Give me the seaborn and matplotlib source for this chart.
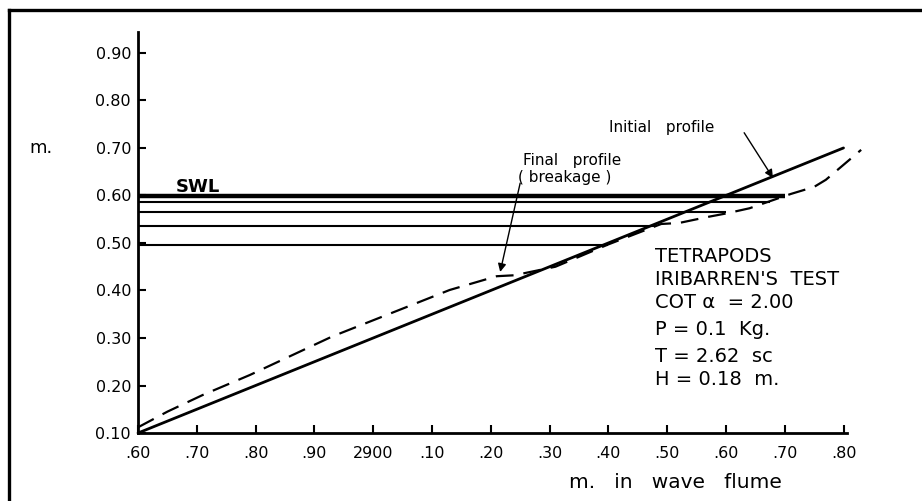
import matplotlib
matplotlib.use("Agg")
import matplotlib.pyplot as plt
from matplotlib.lines import Line2D
import seaborn as sns
import pandas as pd

# ---- data ----
x_tick_values = [28.60, 28.70, 28.80, 28.90, 29.00, 29.10, 29.20, 29.30,
                 29.40, 29.50, 29.60, 29.70, 29.80]
x_tick_labels = [".60", ".70", ".80", ".90", "2900", ".10", ".20", ".30",
                 ".40", ".50", ".60", ".70", ".80"]
y_tick_values = [0.10, 0.20, 0.30, 0.40, 0.50, 0.60, 0.70, 0.80, 0.90]
y_tick_labels = ["0.10", "0.20", "0.30", "0.40", "0.50", "0.60", "0.70", "0.80", "0.90"]

initial_x = [28.60, 29.80]
initial_y = [0.10, 0.70]

final_x = [28.60, 28.65, 28.71, 28.79, 28.93, 29.13, 29.21, 29.24, 29.31,
           29.40, 29.49, 29.52, 29.57, 29.60, 29.64, 29.71, 29.75, 29.77,
           29.79, 29.81, 29.83]
final_y = [0.112, 0.145, 0.180, 0.222, 0.303, 0.401, 0.430, 0.432, 0.450,
           0.497, 0.540, 0.542, 0.555, 0.562, 0.573, 0.603, 0.618, 0.633,
           0.654, 0.675, 0.696]

water_levels = [0.598, 0.586, 0.565, 0.536, 0.496]
water_level_ends = [29.70, 29.675, 29.60, 29.48, 29.40]

info_lines = ["TETRAPODS", "IRIBARREN'S  TEST", "COT α  = 2.00",
              "P = 0.1  Kg.", "T = 2.62  sc", "H = 0.18  m."]

# ---- figure ----
sns.set_style("ticks")
plt.rcParams['font.family'] = ['DejaVu Sans']
plt.rcParams['text.color'] = 'black'

fig = plt.figure(figsize=(9.22, 5.01), dpi=100)
ax = fig.add_axes([0.1497, 0.1357, 0.769, 0.8004])

df_init = pd.DataFrame({"x": initial_x, "y": initial_y})
df_final = pd.DataFrame({"x": final_x, "y": final_y})

sns.lineplot(data=df_init, x="x", y="y", ax=ax, color="black", lw=2.0,
             sort=False, estimator=None, clip_on=False)
sns.lineplot(data=df_final, x="x", y="y", ax=ax, color="black", lw=1.6,
             sort=False, estimator=None, linestyle=(0, (8, 4.5)), clip_on=False)

# water level lines
lws = [3.2, 1.5, 1.5, 1.5, 1.5]
for lvl, xe, w in zip(water_levels, water_level_ends, lws):
    ax.hlines(lvl, x_tick_values[0], xe, color="black", lw=w)

ax.set_xlim(28.60, 29.806)
ax.set_ylim(0.10, 0.944)
ax.set_xticks(x_tick_values)
ax.set_xticklabels(x_tick_labels)
ax.set_yticks(y_tick_values)
ax.set_yticklabels(y_tick_labels)
ax.tick_params(axis="both", direction="in", length=6, width=1.5,
               labelsize=11.5, colors="black")
ax.tick_params(axis="x", pad=9)
ax.tick_params(axis="y", pad=5)
ax.set_xlabel("")
ax.set_ylabel("")
for s in ["top", "right"]:
    ax.spines[s].set_visible(False)
for s in ["left", "bottom"]:
    ax.spines[s].set_linewidth(2)
    ax.spines[s].set_color("black")

# annotations
ax.text(28.665, 0.618, "SWL", fontsize=13, fontweight="bold", va="center",
        ha="left", color="black")
ax.text(29.401, 0.744, "Initial   profile", fontsize=11, va="center",
        ha="left", color="black")
ax.annotate("", xy=(29.680, 0.637), xytext=(29.631, 0.732),
            arrowprops=dict(arrowstyle="-|>", color="black", lw=1.0,
                            mutation_scale=12, shrinkA=0, shrinkB=0))
ax.text(29.255, 0.673, "Final   profile", fontsize=11, va="center",
        ha="left", color="black")
ax.text(29.246, 0.637, "( breakage )", fontsize=11, va="center",
        ha="left", color="black")
ax.annotate("", xy=(29.216, 0.439), xytext=(29.250, 0.626),
            arrowprops=dict(arrowstyle="-|>", color="black", lw=1.0,
                            mutation_scale=12, shrinkA=0, shrinkB=0))

info_y = [0.471, 0.424, 0.374, 0.317, 0.260, 0.212]
for t, yy in zip(info_lines, info_y):
    ax.text(29.479, yy, t, fontsize=14, va="center", ha="left", color="black")

# axis labels
fig.text(675 / 922, 1 - 482 / 501, "m.   in   wave   flume", fontsize=14.5,
         ha="center", va="center", color="black")
fig.text(41 / 922, 1 - 148 / 501, "m.", fontsize=13, ha="center",
         va="center", color="black")

# page border (left and top)
fig.add_artist(Line2D([8.5 / 922, 8.5 / 922], [0, 1 - 9.5 / 501],
                      transform=fig.transFigure, color="black", lw=2.4,
                      solid_capstyle="projecting"))
fig.add_artist(Line2D([8.5 / 922, 1], [1 - 9.5 / 501, 1 - 9.5 / 501],
                      transform=fig.transFigure, color="black", lw=2.4,
                      solid_capstyle="projecting"))

fig.savefig("out.png", dpi=100)
